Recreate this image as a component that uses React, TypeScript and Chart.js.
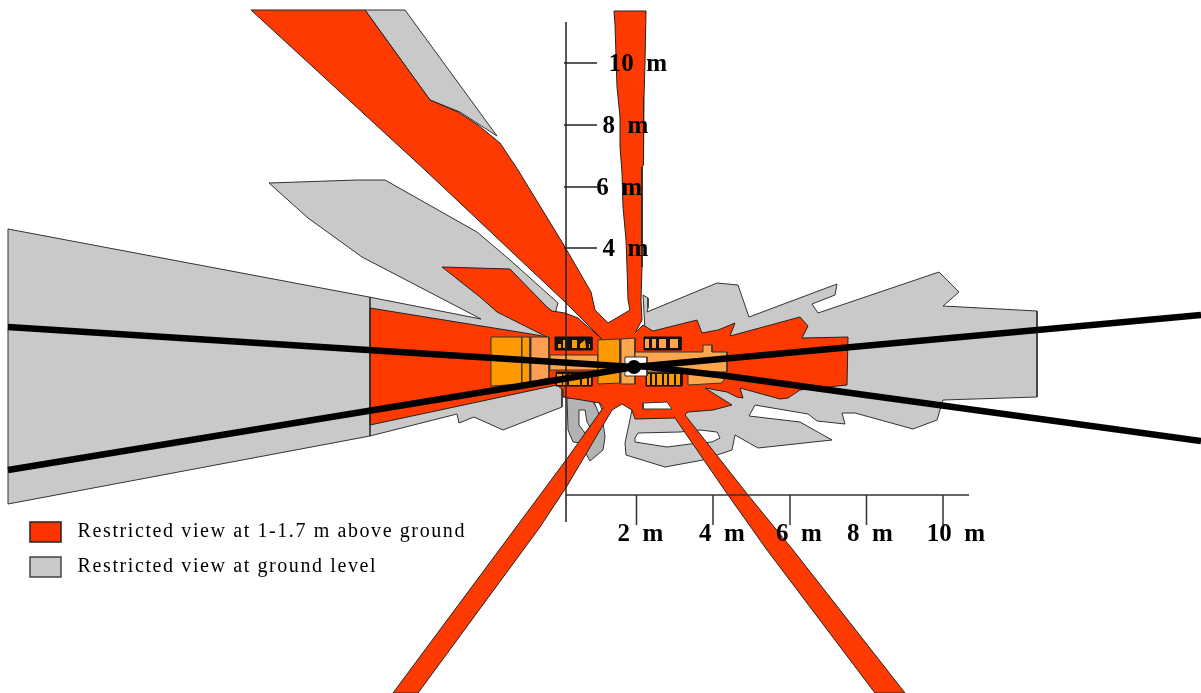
import React, { useEffect, useRef } from "react";
import { Chart, registerables } from "chart.js";

Chart.register(...registerables);

type P = number[];
const RED = "#FF3A00", GREY = "#C9C9C9", DARKGREY = "#B3B3B3", ORANGE = "#FF9900", LIGHT = "#FFA64D", SALMON = "#FF9E52";

const greyTopWedge: P[] = [[365,10],[405,10],[497,136],[460,112],[430,100]];
const greyLeft: P[] = [[8,229],[369,297],[481,319],[362,257],[308,218],[269,183],[298,182],[357,180],[385,180],[477,232],[510,260],[558,303],[556,310],[562,340],[562,407],[503,430],[474,417],[459,423],[457,414],[370,436],[8,504]];
const greyRight: P[] = [[643,295],[648,298],[648,308],[647,312],[717,283],[738,285],[749,317],[837,284],[835,295],[812,304],[818,313],[939,272],[959,292],[943,306],[1037,311],[1037,397],[943,400],[937,420],[913,429],[855,413],[842,413],[845,424],[817,421],[808,414],[755,405],[749,416],[800,422],[832,440],[758,448],[735,435],[732,450],[717,455],[703,460],[665,467],[626,455],[625,443],[632,410],[645,330]];
const greyRightHole: P[] = [[635,438],[638,433],[680,432],[700,430],[717,432],[720,438],[712,442],[690,444],[667,447],[635,442]];
const darkPatch: P[] = [[567,398],[590,398],[602,415],[605,437],[603,450],[590,461],[580,443],[573,442],[568,430]];
const darkPatchHole: P[] = [[579,410],[585,410],[587,422],[590,427],[585,433],[579,425]];
const darkPatchSlit: P[] = [[592,397],[597,397],[602,410],[599,414]];
const redViewShape: P[] = [[251,10],[365,10],[430,100],[458,112],[478,125],[500,143],[518,170],[565,247],[591,292],[595,310],[608,323],[630,310],[628,300],[627,267],[626,240],[623,207],[622,173],[620,147],[620,117],[617,87],[615,25],[614,11],[646,11],[645,63],[644,97],[644,133],[643,165],[642,167],[642,207],[642,267],[641,300],[642,320],[635,333],[643,325],[653,331],[697,320],[702,333],[718,330],[735,323],[730,336],[800,317],[808,326],[802,338],[848,337],[847,385],[800,390],[788,398],[780,399],[740,388],[743,398],[737,397],[727,392],[705,388],[732,405],[713,410],[688,412],[685,415],[748,495],[793,550],[905,693],[875,693],[767,550],[728,495],[675,418],[635,419],[632,410],[622,404],[612,410],[567,486],[540,527],[418,693],[393,693],[540,495],[566,460],[603,408],[600,403],[563,397],[563,390],[557,385],[370,425],[370,308],[537,335],[547,337],[497,312],[480,297],[442,267],[510,269],[547,307],[552,311],[565,313],[578,318],[603,340],[565,302],[425,170]];
const redHole: P[] = [[643,403],[643,409],[672,409],[667,402]];

const carBigFront: P[] = [[491,337],[522,337],[522,384],[491,386]];
const carStrip: P[] = [[522,337],[530,337],[530,383],[522,384]];
const carRear: P[] = [[531,337],[549,337],[549,378],[531,382]];
const carMiddleStrip: P[] = [[550,355],[598,355],[598,370],[550,370]];
const cabinLeft: P[] = [[598,340],[620,339],[620,383],[598,384]];
const cabinRight: P[] = [[621,339],[635,338],[635,384],[621,384]];
const bodyRight: P[] = [[635,352],[703,352],[703,345],[712,345],[712,352],[727,352],[727,372],[635,372]];
const bodyRightLower: P[] = [[688,374],[727,374],[722,383],[688,385]];
const whiteCab: P[] = [[625,357],[647,357],[647,376],[625,376]];

const blackWindows: P[][] = [
  [[555,337],[592,337],[592,350],[555,350]],
  [[644,337],[681,337],[681,350],[644,350]],
  [[556,372],[592,372],[592,386],[556,386]],
  [[646,373],[682,373],[682,386],[646,386]],
];
const paneTopLeft: P[][] = [
  [[558,344],[561,344],[561,348],[558,348]],
  [[563,340],[565,340],[565,348],[563,348]],
  [[572,340],[577,340],[577,348],[572,348]],
  [[580,344],[585,340],[586,348],[580,348]],
  [[589,344],[590,344],[590,348],[589,348]],
];
const paneTopRight: P[][] = [
  [[645,339],[649,339],[649,348],[645,348]],
  [[652,339],[656,339],[656,348],[652,348]],
  [[659,339],[666,339],[666,348],[659,348]],
  [[670,339],[678,339],[678,348],[670,348]],
];
const paneLowLeft: P[][] = [
  [[557,374],[562,374],[562,385],[557,385]],
  [[563,374],[567,374],[567,385],[563,385]],
  [[569,374],[580,374],[580,385],[569,385]],
  [[582,374],[587,374],[587,385],[582,385]],
  [[589,374],[591,374],[591,385],[589,385]],
];
const paneLowRight: P[][] = [
  [[647,374],[650,374],[650,385],[647,385]],
  [[652,374],[655,374],[655,385],[652,385]],
  [[657,374],[662,374],[662,385],[657,385]],
  [[664,374],[667,374],[667,385],[664,385]],
  [[669,374],[674,374],[674,385],[669,385]],
  [[676,374],[680,374],[680,385],[676,385]],
];

const sightUpperLeft: P[] = [[8,327],[634,367]];
const sightLowerLeft: P[] = [[8,470],[557,380],[634,367]];
const sightUpperRight: P[] = [[634,367],[1201,315]];
const sightLowerRight: P[] = [[640,366],[727,376],[1201,441]];
const observer: P[] = [[634,367]];

const xAxisLine: P[] = [[566,495],[969,495]];
const yAxisLine: P[] = [[566,22],[566,522]];
const carEdge: P[] = [[370,297],[370,436]];
const xTickMarks = [636.5, 713, 790, 866.5, 943];
const yTickMarks = [63, 125, 187, 248];
const xLabelCentres = [640.5, 722, 799, 870, 956];
const xLabels = ["2  m", "4  m", "6  m", "8  m", "10  m"];
const yLabels = ["10  m", "8  m   ", "6  m    ", "4  m   "];
const legendLabels = [" Restricted view at 1-1.7 m above ground", " Restricted view at ground level"];

const pts = (a: P[]) => a.map(([x, y]) => ({ x, y }));

function shape(a: P[], fill: string, stroke = "#333333", width = 1) {
  return {
    data: pts([...a, a[0]]), showLine: true, fill: "shape", backgroundColor: fill,
    borderColor: stroke, borderWidth: width, pointRadius: 0, tension: 0,
  };
}
function stroke(a: P[], color: string, width: number) {
  return { data: pts(a), showLine: true, fill: false, borderColor: color, borderWidth: width, pointRadius: 0, tension: 0 };
}

const legendPlacer = {
  id: "legendPlacer",
  afterLayout(chart: any) {
    const l = chart.legend;
    // the legend adds its label padding before the first row and column
    if (l) { l.left = 15; l.top = 507; l.right = 560; l.bottom = 640; l.width = 545; l.height = 133; }
  },
  beforeDraw(chart: any) { chart.ctx.letterSpacing = "1.6px"; },
  beforeDatasetsDraw(chart: any) { chart.ctx.letterSpacing = "0px"; },
};

const noScalePadding = (s: any) => { s.paddingTop = 0; s.paddingBottom = 0; s.paddingLeft = 0; s.paddingRight = 0; };

export default function App() {
  const ref = useRef<HTMLCanvasElement>(null);
  useEffect(() => {
    document.body.style.margin = "0";
    document.body.style.background = "#fff";
    const painted: any[] = [
      shape(greyTopWedge, GREY),
      shape(greyLeft, GREY),
      shape(greyRight, GREY),
      shape(greyRightHole, "#FFFFFF"),
      shape(darkPatch, DARKGREY),
      shape(darkPatchHole, "#FFFFFF"),
      shape(darkPatchSlit, "#FFFFFF"),
      shape(redViewShape, RED, "#222222"),
      shape(redHole, "#FFFFFF"),
      stroke(carEdge, "#222222", 1.5),
      shape(carBigFront, ORANGE),
      shape(carStrip, ORANGE),
      shape(carRear, SALMON),
      shape(carMiddleStrip, LIGHT),
      shape(cabinLeft, ORANGE),
      shape(cabinRight, LIGHT),
      shape(bodyRight, LIGHT),
      shape(bodyRightLower, LIGHT),
      ...blackWindows.map((w) => shape(w, "#111111", "#111111")),
      ...paneTopLeft.map((w) => shape(w, ORANGE, ORANGE, 0)),
      ...paneTopRight.map((w) => shape(w, LIGHT, LIGHT, 0)),
      ...paneLowLeft.map((w) => shape(w, ORANGE, ORANGE, 0)),
      ...paneLowRight.map((w) => shape(w, ORANGE, ORANGE, 0)),
      shape(whiteCab, "#FFFFFF"),
      stroke(yAxisLine, "#222222", 1.5),
      stroke(xAxisLine, "#333333", 1.5),
      ...xTickMarks.map((x) => stroke([[x, 495], [x, 525]], "#333333", 1.5)),
      ...yTickMarks.map((y) => stroke([[564, y], [597, y]], "#222222", 1.5)),
      stroke(sightUpperLeft, "#000000", 6.5),
      stroke(sightLowerLeft, "#000000", 6.5),
      stroke(sightUpperRight, "#000000", 6.5),
      stroke(sightLowerRight, "#000000", 6.5),
      { data: pts(observer), showLine: false, pointRadius: 7, pointBackgroundColor: "#000000", pointBorderWidth: 0 },
    ];
    const tickFont = { family: "'Liberation Serif'", size: 25, weight: "bold" as const };
    const chart = new Chart(ref.current!, {
      type: "scatter",
      data: { datasets: painted.slice().reverse() },
      options: {
        animation: false,
        responsive: false,
        devicePixelRatio: 1,
        layout: { padding: 0, autoPadding: false },
        events: [],
        scales: {
          x: {
            type: "linear", min: 0, max: 1201, position: { y: 495 } as any,
            grid: { display: false, drawTicks: false }, border: { display: false },
            afterFit: noScalePadding,
            afterBuildTicks: (s: any) => { s.ticks = xLabelCentres.map((value) => ({ value })); },
            ticks: {
              z: 1, color: "#000", font: tickFont, padding: 25, autoSkip: false, maxRotation: 0, minRotation: 0,
              callback: (v: any) => xLabels[xLabelCentres.indexOf(v)],
            },
          },
          y: {
            type: "linear", min: 0, max: 693, reverse: true, position: { x: 667 } as any,
            grid: { display: false, drawTicks: false }, border: { display: false },
            afterFit: noScalePadding,
            afterBuildTicks: (s: any) => { s.ticks = yTickMarks.map((value) => ({ value })); },
            ticks: {
              z: 1, color: "#000", font: tickFont, padding: 0, labelOffset: 2, autoSkip: false,
              callback: (v: any) => yLabels[yTickMarks.indexOf(v)],
            },
          },
        },
        plugins: {
          title: { display: false },
          tooltip: { enabled: false },
          legend: {
            display: true,
            position: "chartArea",
            align: "start",
            labels: {
              boxWidth: 31, boxHeight: 20, padding: 15,
              color: "#222",
              font: { family: "'Liberation Serif'", size: 20 },
              generateLabels: () => [
                { text: legendLabels[0], fillStyle: "#FF3300", strokeStyle: "#222", lineWidth: 1.5, hidden: false },
                { text: legendLabels[1], fillStyle: GREY, strokeStyle: "#444", lineWidth: 1.5, hidden: false },
              ],
            },
          } as any,
        },
      },
      plugins: [legendPlacer],
    });
    return () => chart.destroy();
  }, []);
  return <canvas ref={ref} width={1201} height={693} style={{ display: "block", width: 1201, height: 693 }} />;
}
